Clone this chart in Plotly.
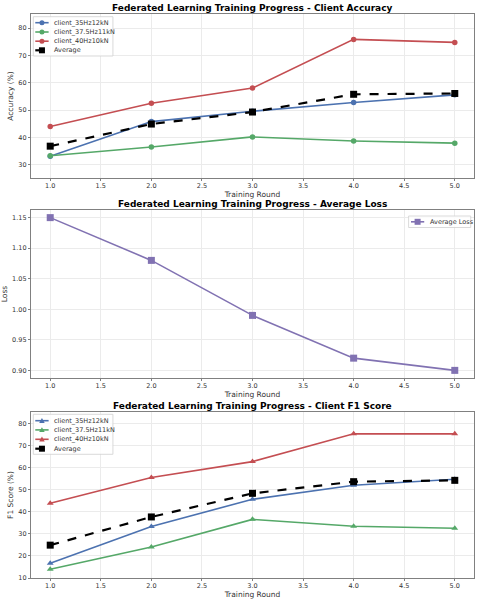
import plotly.graph_objects as go
from plotly.subplots import make_subplots

rounds = [1, 2, 3, 4, 5]
client_names = ["client_35Hz12kN", "client_37.5Hz11kN", "client_40Hz10kN"]
client_colors = ["#4C72B0", "#55A868", "#C44E52"]
loss_color = "#8172B2"

# accuracy per client (%)
acc_35 = [33.1, 45.8, 49.6, 52.8, 55.6]
acc_375 = [33.3, 36.5, 40.2, 38.7, 37.9]
acc_40 = [44.0, 52.5, 58.1, 75.9, 74.8]
acc_avg = [36.8, 44.9, 49.3, 55.8, 56.1]

avg_loss = [1.15, 1.08, 0.99, 0.92, 0.90]

# f1 per client (%)
f1_35 = [16.7, 33.4, 45.7, 52.1, 54.8]
f1_375 = [14.0, 24.1, 36.6, 33.5, 32.6]
f1_40 = [43.9, 55.6, 62.8, 75.4, 75.4]
f1_avg = [24.9, 37.7, 48.4, 53.7, 54.3]

FONT = "DejaVu Sans"
W, H = 479, 600
ML, MR, MT, MB = 30, 4, 14, 22

fig = make_subplots(
    rows=3, cols=1,
    subplot_titles=(
        "<b>Federated Learning Training Progress - Client Accuracy</b>",
        "<b>Federated Learning Training Progress - Average Loss</b>",
        "<b>Federated Learning Training Progress - Client F1 Score</b>",
    ),
    vertical_spacing=0.06,
)

# accuracy panel
for name, vals, col in zip(client_names, [acc_35, acc_375, acc_40], client_colors):
    fig.add_trace(go.Scatter(x=rounds, y=vals, name=name, mode="lines+markers",
                             line=dict(color=col, width=1.6),
                             marker=dict(symbol="circle", size=5.5, color=col)),
                  row=1, col=1)
fig.add_trace(go.Scatter(x=rounds, y=acc_avg, name="Average", mode="lines+markers",
                         line=dict(color="black", width=2.2, dash="dash"),
                         marker=dict(symbol="square", size=7, color="black")),
              row=1, col=1)

# loss panel
fig.add_trace(go.Scatter(x=rounds, y=avg_loss, name="Average Loss", mode="lines+markers",
                         line=dict(color=loss_color, width=1.6),
                         marker=dict(symbol="square", size=7, color=loss_color)),
              row=2, col=1)

# f1 panel
for name, vals, col in zip(client_names, [f1_35, f1_375, f1_40], client_colors):
    fig.add_trace(go.Scatter(x=rounds, y=vals, name=name, mode="lines+markers",
                             line=dict(color=col, width=1.6),
                             marker=dict(symbol="triangle-up", size=6, color=col)),
                  row=3, col=1)
fig.add_trace(go.Scatter(x=rounds, y=f1_avg, name="Average", mode="lines+markers",
                         line=dict(color="black", width=2.2, dash="dash"),
                         marker=dict(symbol="square", size=7, color="black")),
              row=3, col=1)

fig.update_traces(showlegend=False)

domains = [(0.709, 1.0), (0.3546, 0.6525), (0.0, 0.2943)]
ylabels = ["Accuracy (%)", "Loss", "F1 Score (%)"]
yranges = [[25.1, 85.2], [0.8875, 1.1625], [10, 85.3]]
ydticks = [10, 0.05, 10]

axis_common = dict(
    showline=True, linecolor="#808080", linewidth=1.2, mirror=True,
    showgrid=True, gridcolor="#ebebeb", gridwidth=0.8,
    ticks="outside", ticklen=2, tickcolor="#808080",
    tickfont=dict(family=FONT, size=6.5, color="#333333"),
    zeroline=False,
)

for i in range(3):
    fig.update_xaxes(range=[0.81, 5.19], dtick=0.5, tick0=1, tickformat=".1f",
                     ticklabelstandoff=-1,
                     title=dict(text="Training Round", standoff=0,
                                font=dict(family=FONT, size=7.5, color="#333333")),
                     **axis_common, row=i + 1, col=1)
    fig.update_yaxes(range=yranges[i], dtick=ydticks[i], domain=list(domains[i]),
                     title=dict(text=ylabels[i], standoff=3,
                                font=dict(family=FONT, size=7.5, color="#333333")),
                     **axis_common, row=i + 1, col=1)
fig.update_yaxes(tickformat=".2f", row=2, col=1)

# move subplot titles above each panel
for ann, dom in zip(fig.layout.annotations, domains):
    ann.y = dom[1]
    ann.yanchor = "bottom"
    ann.yshift = -1
    ann.font = dict(family=FONT, size=9, color="black")


# hand-made legends (matplotlib style, tight spacing)
def px(x):
    return (x - ML) / (W - ML - MR)


def py(y):
    return (H - MB - y) / (H - MT - MB)


def marker_shape(x, y, symbol, color, size):
    s = size / 2
    base = dict(xref="paper", yref="paper", xsizemode="pixel", ysizemode="pixel",
                xanchor=px(x), yanchor=py(y), fillcolor=color,
                line=dict(width=0), layer="above")
    if symbol == "circle":
        return dict(type="circle", x0=-s, x1=s, y0=-s, y1=s, **base)
    if symbol == "square":
        return dict(type="rect", x0=-s, x1=s, y0=-s, y1=s, **base)
    return dict(type="path", path=f"M{-s},{-s * 0.8} L{s},{-s * 0.8} L0,{s} Z", **base)


def add_legend(box, items, line_x, text_x):
    x0, y0, x1, y1 = box
    fig.add_shape(type="rect", xref="paper", yref="paper",
                  x0=px(x0), x1=px(x1), y0=py(y0), y1=py(y1),
                  fillcolor="rgba(255,255,255,0.85)",
                  line=dict(color="#d0d0d0", width=0.8), layer="above")
    for label, y, color, symbol, msize, width, dash in items:
        fig.add_shape(type="line", xref="paper", yref="paper",
                      x0=px(line_x[0]), x1=px(line_x[1]), y0=py(y), y1=py(y),
                      line=dict(color=color, width=width, dash=dash), layer="above")
        fig.add_shape(marker_shape((line_x[0] + line_x[1]) / 2, y, symbol, color, msize))
        fig.add_annotation(x=px(text_x), y=py(y), xref="paper", yref="paper",
                           text=label, showarrow=False, xanchor="left", yanchor="middle",
                           font=dict(family=FONT, size=6.5, color="#333333"))


add_legend((32.3, 16.7, 112.3, 56),
           [(client_names[0], 22.7, client_colors[0], "circle", 5, 1.6, "solid"),
            (client_names[1], 32.0, client_colors[1], "circle", 5, 1.6, "solid"),
            (client_names[2], 41.2, client_colors[2], "circle", 5, 1.6, "solid"),
            ("Average", 50.3, "black", "square", 6, 2.2, "dash")],
           (34.3, 47.7), 51.5)

add_legend((409.3, 216, 471.7, 227.5),
           [("Average Loss", 221.8, loss_color, "square", 6, 1.6, "solid")],
           (411.7, 425), 428.5)

add_legend((32.3, 414.3, 112.3, 454.3),
           [(client_names[0], 420.7, client_colors[0], "triangle", 5.5, 1.6, "solid"),
            (client_names[1], 429.9, client_colors[1], "triangle", 5.5, 1.6, "solid"),
            (client_names[2], 439.3, client_colors[2], "triangle", 5.5, 1.6, "solid"),
            ("Average", 448.7, "black", "square", 6, 2.2, "dash")],
           (34.3, 47.7), 51.5)

fig.update_layout(
    width=W, height=H,
    margin=dict(l=ML, r=MR, t=MT, b=MB),
    plot_bgcolor="white", paper_bgcolor="white",
    font=dict(family=FONT),
    showlegend=False,
)

# page body has a default 8px margin; drop it so the figure fills the window
fig.write_html("out.html", config={"displayModeBar": False},
               post_script="document.body.style.margin='0';")
